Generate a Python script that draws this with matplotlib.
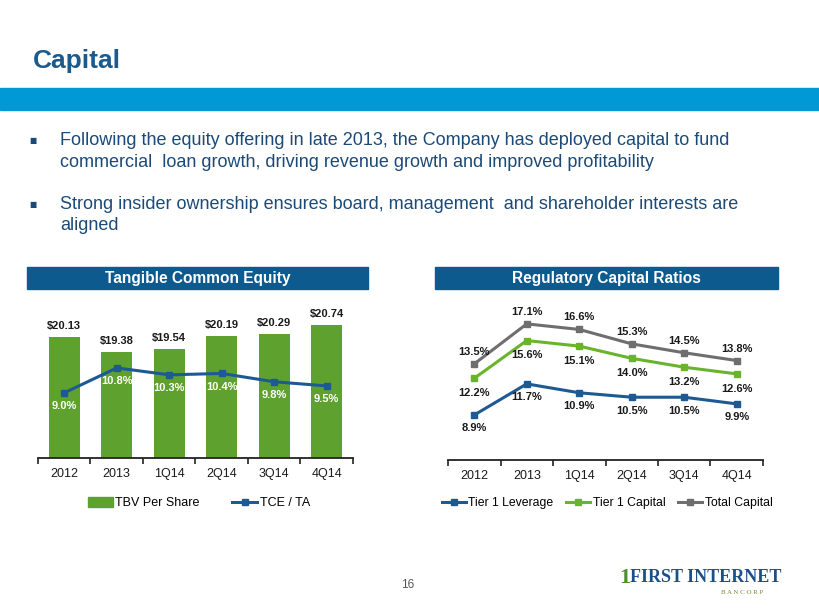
import matplotlib
matplotlib.use("Agg")
import matplotlib.pyplot as plt
from matplotlib.patches import Rectangle
from matplotlib.lines import Line2D

plt.rcParams['font.family'] = ['Liberation Sans', 'DejaVu Sans']

# ---------------- data ----------------
categories = ["2012", "2013", "1Q14", "2Q14", "3Q14", "4Q14"]
tbv_per_share = [20.13, 19.38, 19.54, 20.19, 20.29, 20.74]
tce_ta = [9.0, 10.8, 10.3, 10.4, 9.8, 9.5]
tier1_leverage = [8.9, 11.7, 10.9, 10.5, 10.5, 9.9]
tier1_capital = [12.2, 15.6, 15.1, 14.0, 13.2, 12.6]
total_capital = [13.5, 17.1, 16.6, 15.3, 14.5, 13.8]

bullets = [
    ["Following the equity offering in late 2013, the Company has deployed capital to fund",
     "commercial  loan growth, driving revenue growth and improved profitability"],
    ["Strong insider ownership ensures board, management  and shareholder interests are",
     "aligned"],
]

W, H = 820, 615
fig = plt.figure(figsize=(W / 100, H / 100), dpi=100)

def box(x0, y0, x1, y1):
    return [x0 / W, 1 - y1 / H, (x1 - x0) / W, (y1 - y0) / H]

DARK = "#0d5a8e"
TEXT_BLUE = "#1b4a78"
GREEN_BAR = "#5fa12f"
LINE_BLUE = "#1d5a94"
GREEN_LINE = "#6ab42d"
GREY_LINE = "#6e6e6e"

# ---------------- slide decorations ----------------
fig.text(33 / W, 1 - 68 / H, "Capital", fontsize=19, fontweight="bold", color="#1a5a8c",
         va="baseline", ha="left")
fig.patches.append(Rectangle((0, 1 - 110 / H), 1, 22 / H, transform=fig.transFigure,
                             color="#0099d5", zorder=0))

baselines = [(145, 167), (209, 230)]
for (b1, b2), lines in zip(baselines, bullets):
    fig.text(33 / W, 1 - (b1 - 5) / H, "■", fontsize=5.5, color=TEXT_BLUE, va="center",
             ha="center", family=["DejaVu Sans"])
    for b, line in zip((b1, b2), lines):
        fig.text(60 / W, 1 - b / H, line, fontsize=13, color=TEXT_BLUE, va="baseline", ha="left")

fig.text(408 / W, 1 - 585 / H, "16", fontsize=8.5, color="#555555", ha="center", va="center")

# logo
fig.text(619 / W, 1 - 578 / H, "1", fontsize=16, fontweight="bold", color="#4f8f2e",
         family=["Liberation Serif"], ha="left", va="center")
fig.text(630 / W, 1 - 578 / H, "FIRST INTERNET", fontsize=13, fontweight="bold", color="#1c4f86",
         family=["Liberation Serif"], ha="left", va="center")
fig.text(742 / W, 1 - 593 / H, "B A N C O R P", fontsize=5, color="#7a8a3a",
         family=["Liberation Serif"], ha="center", va="center")

# ---------------- header boxes ----------------
for (x0, x1, title) in [(27, 368, "Tangible Common Equity"), (435, 778, "Regulatory Capital Ratios")]:
    fig.patches.append(Rectangle((x0 / W, 1 - 289 / H), (x1 - x0) / W, 22 / H,
                                 transform=fig.transFigure, color=DARK, zorder=0))
    fig.text((x0 + x1) / 2 / W, 1 - 278 / H, title, color="white", fontsize=11.2,
             fontweight="bold", ha="center", va="center")

x = list(range(len(categories)))

def style_axis(ax):
    for s in ["top", "right", "left"]:
        ax.spines[s].set_visible(False)
    ax.spines["bottom"].set_linewidth(1.3)
    ax.spines["bottom"].set_color("#222222")
    ax.set_yticks([])
    ax.set_xlim(-0.5, 5.5)
    ax.set_xticks(x)
    ax.set_xticklabels(categories, fontsize=9, color="#1a1a1a")
    ax.tick_params(axis="x", which="major", length=0, pad=7)
    ax.set_xticks([i - 0.5 for i in range(len(categories) + 1)], minor=True)
    ax.tick_params(axis="x", which="minor", length=4, width=1.2, color="#222222", direction="out")
    ax.patch.set_alpha(0)

# ---------------- left chart ----------------
ax1 = fig.add_axes(box(38, 300, 353, 458))
ax1.bar(x, tbv_per_share, width=0.59, color=GREEN_BAR, bottom=0, zorder=1)
ax1.set_ylim(14, 22)
style_axis(ax1)
for i, v in enumerate(tbv_per_share):
    ax1.annotate(f"${v:.2f}", (i, v), xytext=(0, 4), textcoords="offset points",
                 ha="center", va="bottom", fontsize=8, fontweight="bold", color="#1a1a1a")

ax1b = ax1.twinx()
ax1b.plot(x, tce_ta, color=LINE_BLUE, lw=2.2, marker="s", ms=5, zorder=3)
ax1b.set_ylim(4.3, 15.7)
ax1b.set_yticks([])
for s in ["top", "right", "left", "bottom"]:
    ax1b.spines[s].set_visible(False)
for i, v in enumerate(tce_ta):
    ax1b.annotate(f"{v:.1f}%", (i, v), xytext=(0, -6), textcoords="offset points",
                  ha="center", va="top", fontsize=8, fontweight="bold", color="white")

h1 = [Rectangle((0, 0), 1, 1, color=GREEN_BAR),
      Line2D([], [], color=LINE_BLUE, lw=2.2, marker="s", ms=4)]
fig.legend(h1, ["TBV Per Share", "TCE / TA"], loc="center", ncol=2, frameon=False,
           bbox_to_anchor=(199 / W, 1 - 503 / H), fontsize=9, handlelength=2.0,
           handleheight=0.9, columnspacing=2.6, handletextpad=0.2)

# ---------------- right chart ----------------
ax2 = fig.add_axes(box(448, 300, 763, 460))
style_axis(ax2)
ax2.set_ylim(4.85, 19.25)
series = [(tier1_leverage, LINE_BLUE, -6, "top"),
          (tier1_capital, GREEN_LINE, -7, "top"),
          (total_capital, GREY_LINE, 5, "bottom")]
for vals, col, off, va in series:
    ax2.plot(x, vals, color=col, lw=2.2, marker="s", ms=5, zorder=3)
    for i, v in enumerate(vals):
        ax2.annotate(f"{v:.1f}%", (i, v), xytext=(0, off), textcoords="offset points",
                     ha="center", va=va, fontsize=8, fontweight="bold", color="#1a1a1a")

h2 = [Line2D([], [], color=LINE_BLUE, lw=2.2, marker="s", ms=4),
      Line2D([], [], color=GREEN_LINE, lw=2.2, marker="s", ms=4),
      Line2D([], [], color=GREY_LINE, lw=2.2, marker="s", ms=4)]
fig.legend(h2, ["Tier 1 Leverage", "Tier 1 Capital", "Total Capital"], loc="center", ncol=3,
           frameon=False, bbox_to_anchor=(607 / W, 1 - 503 / H), fontsize=8.8, handlelength=2.0,
           columnspacing=1.0, handletextpad=0.2)

fig.savefig("out.png", dpi=100)
